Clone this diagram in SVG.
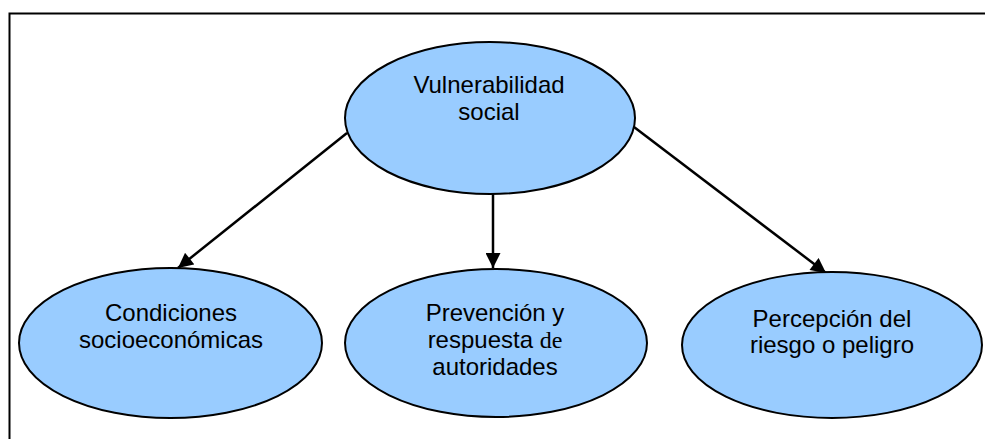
<svg xmlns="http://www.w3.org/2000/svg" width="985" height="439" viewBox="0 0 985 439">
<style>
.node ellipse{fill:#99ccff;stroke:#000;stroke-width:2}
.node text{font-family:"Liberation Sans",Arial,sans-serif;font-size:24px;fill:#000;text-anchor:middle}
.serif{font-family:"Liberation Serif","Times New Roman",serif}
.conn line{stroke:#000;stroke-width:2.5;marker-end:url(#ah)}
</style>
<defs>
<marker id="ah" viewBox="0 0 10 10" refX="10" refY="5" markerWidth="6.4" markerHeight="6" orient="auto" markerUnits="strokeWidth">
<path d="M0,0 L10,5 L0,10 z" fill="#000"/>
</marker>
</defs>
<rect x="9.5" y="13.5" width="1000" height="500" fill="#fff" stroke="#000" stroke-width="2"/>
<g id="connectors" class="conn">
<line x1="347" y1="133" x2="178" y2="268"/>
<line x1="493" y1="194" x2="493" y2="268"/>
<line x1="634" y1="127" x2="826" y2="273"/>
</g>
<g id="n-vulnerabilidad" class="node">
<ellipse cx="490" cy="118" rx="145" ry="76"/>
<text x="489" y="93">Vulnerabilidad</text>
<text x="489" y="120">social</text>
</g>
<g id="n-condiciones" class="node">
<ellipse cx="170.5" cy="343" rx="151.5" ry="75"/>
<text x="171" y="321">Condiciones</text>
<text x="171" y="348">socioeconómicas</text>
</g>
<g id="n-prevencion" class="node">
<ellipse cx="496" cy="343" rx="151" ry="74"/>
<text x="495" y="321">Prevención y</text>
<text x="495" y="348">respuesta <tspan class="serif">de</tspan></text>
<text x="495" y="375">autoridades</text>
</g>
<g id="n-percepcion" class="node">
<ellipse cx="832" cy="345" rx="150" ry="73"/>
<text x="832" y="327">Percepción del</text>
<text x="832" y="353">riesgo o peligro</text>
</g>
</svg>
